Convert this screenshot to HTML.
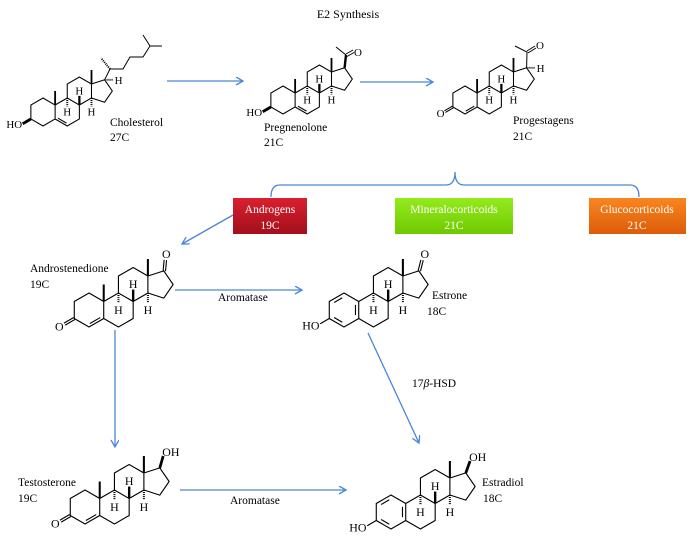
<!DOCTYPE html>
<html><head><meta charset="utf-8"><style>
html,body{margin:0;padding:0;background:#fff;}
svg{display:block;font-family:"Liberation Serif",serif;}
</style></head><body>
<svg width="696" height="540" viewBox="0 0 696 540" xmlns="http://www.w3.org/2000/svg">
<defs>
<marker id="ah" markerWidth="10" markerHeight="10" refX="8" refY="4" orient="auto" markerUnits="userSpaceOnUse">
<path d="M1,0 L8,4 L1,8" fill="none" stroke="#4a86d8" stroke-width="1.3"/>
</marker>
<linearGradient id="gr" x1="0" y1="0" x2="0" y2="1"><stop offset="0" stop-color="#d9202e"/><stop offset="1" stop-color="#a30f1c"/></linearGradient>
<linearGradient id="gg" x1="0" y1="0" x2="0" y2="1"><stop offset="0" stop-color="#94ec1e"/><stop offset="1" stop-color="#70c800"/></linearGradient>
<linearGradient id="go" x1="0" y1="0" x2="0" y2="1"><stop offset="0" stop-color="#f8861e"/><stop offset="1" stop-color="#dc5c0a"/></linearGradient>
</defs>

<text x="348" y="18" font-size="12" text-anchor="middle">E2 Synthesis</text>

<!-- arrows -->
<g stroke="#4a86d8" stroke-width="1.3" fill="none">
<line x1="167" y1="81" x2="243" y2="81" marker-end="url(#ah)"/>
<line x1="360" y1="82" x2="433" y2="82" marker-end="url(#ah)"/>
<path d="M271,197 Q271,185 280,185 L446,185 Q455,185 455,172 Q455,185 464,185 L630,185 Q639,185 639,197"/>
<line x1="233" y1="215" x2="182" y2="244" marker-end="url(#ah)"/>
<line x1="175" y1="290" x2="302" y2="290" marker-end="url(#ah)"/>
<line x1="115" y1="330" x2="115" y2="447" marker-end="url(#ah)"/>
<line x1="368" y1="333" x2="419" y2="443" marker-end="url(#ah)"/>
<line x1="180" y1="490" x2="346" y2="490" marker-end="url(#ah)"/>
</g>

<!-- boxes -->
<rect x="233" y="198" width="74" height="36" fill="url(#gr)"/>
<rect x="395" y="198" width="118" height="36" fill="url(#gg)"/>
<rect x="589" y="198" width="97" height="36" fill="url(#go)"/>
<g fill="#fff" font-size="11.5" text-anchor="middle">
<text x="270" y="213">Androgens</text><text x="270" y="229">19C</text>
<text x="454" y="213">Mineralocorticoids</text><text x="454" y="229">21C</text>
<text x="637" y="213">Glucocorticoids</text><text x="637" y="229">21C</text>
</g>

<!-- labels -->
<g font-size="11.5" fill="#000">
<text x="110" y="126">Cholesterol</text><text x="110" y="141">27C</text>
<text x="264" y="131">Pregnenolone</text><text x="264" y="146">21C</text>
<text x="513" y="124">Progestagens</text><text x="513" y="140">21C</text>
<text x="30" y="272">Androstenedione</text><text x="30" y="288">19C</text>
<text x="218" y="301">Aromatase</text>
<text x="432" y="299">Estrone</text><text x="427" y="315">18C</text>
<text x="412" y="387">17<tspan font-style="italic">β</tspan>-HSD</text>
<text x="18" y="486">Testosterone</text><text x="18" y="502">19C</text>
<text x="230" y="504">Aromatase</text>
<text x="482" y="486">Estradiol</text><text x="483" y="502">18C</text>
</g>

<!-- ===== Cholesterol ===== -->
<g transform="translate(43,112) scale(14)" fill="none" stroke="#000" stroke-width="0.075">
<path d="M0,-1L.866,-.5L.866,.5L0,1L-.866,.5L-.866,-.5Z M.866,-.5L1.732,-1L2.598,-.5L2.598,.5L1.732,1L.866,.5 M1.732,-1L1.732,-2L2.598,-2.5L3.464,-2L3.464,-1L2.598,-.5 M3.464,-2L4.4,-2.3L4.95,-1.5L4.4,-.7L3.464,-1"/>
<path d="M1.071,.445L1.677,.795"/>
<path d="M.866,-.5L.866,-1.5 M3.464,-2L3.464,-3" stroke-width=".13"/>
<path d="M1.732,-1L1.732,-.4 M3.464,-1L3.464,-.4" stroke-width=".14" stroke-dasharray=".07 .07"/>
<path d="M2.598,-.5L2.598,-1.15" stroke-width=".16"/>
<path d="M-.866,.5L-1.45,.84" stroke-width=".2"/>
<path d="M4.4,-2.3L5,-2.3" stroke-width=".14" stroke-dasharray=".07 .07"/>
<g fill="#000" stroke="none" font-size=".78" text-anchor="middle">
<text x="1.732" y=".25">H</text><text x="3.464" y=".25">H</text><text x="2.598" y="-1.25">H</text>
<text x="5.4" y="-2.0">H</text>
<text x="-2.05" y="1.15">HO</text>
</g>
</g>
<g fill="none" stroke="#000" stroke-width="1">
<path d="M104.6,79.8 L110,69 L123,69 L130,57 L143,57 L150,46 L143,35 M150,46 L162,46"/>
<path d="M110,69 L101,58" stroke-width="2" stroke-dasharray="1 1"/>
</g>

<!-- ===== Pregnenolone ===== -->
<g transform="translate(283,100) scale(14)" fill="none" stroke="#000" stroke-width="0.075">
<path d="M0,-1L.866,-.5L.866,.5L0,1L-.866,.5L-.866,-.5Z M.866,-.5L1.732,-1L2.598,-.5L2.598,.5L1.732,1L.866,.5 M1.732,-1L1.732,-2L2.598,-2.5L3.464,-2L3.464,-1L2.598,-.5 M3.464,-2L4.4,-2.3L4.95,-1.5L4.4,-.7L3.464,-1"/>
<path d="M1.071,.445L1.677,.795"/>
<path d="M.866,-.5L.866,-1.5 M3.464,-2L3.464,-3" stroke-width=".13"/>
<path d="M1.732,-1L1.732,-.4 M3.464,-1L3.464,-.4" stroke-width=".14" stroke-dasharray=".07 .07"/>
<path d="M2.598,-.5L2.598,-1.15" stroke-width=".16"/>
<path d="M-.866,.5L-1.45,.84" stroke-width=".2"/>
<g fill="#000" stroke="none" font-size=".78" text-anchor="middle">
<text x="1.732" y=".25">H</text><text x="3.464" y=".25">H</text><text x="2.598" y="-1.25">H</text>
<text x="-2.05" y="1.15">HO</text>
</g>
</g>
<g fill="none" stroke="#000" stroke-width="1">
<path d="M344.6,67.8 L346,55" stroke-width="2.4"/>
<path d="M346,55 L336,47 M346,54 L353,50 M347,56.5 L354,52.5"/>
</g>
<text x="354" y="56" font-size="11">O</text>

<!-- ===== Progestagens ===== -->
<g transform="translate(465,100) scale(14)" fill="none" stroke="#000" stroke-width="0.075">
<path d="M0,-1L.866,-.5L.866,.5L0,1L-.866,.5L-.866,-.5Z M.866,-.5L1.732,-1L2.598,-.5L2.598,.5L1.732,1L.866,.5 M1.732,-1L1.732,-2L2.598,-2.5L3.464,-2L3.464,-1L2.598,-.5 M3.464,-2L4.4,-2.3L4.95,-1.5L4.4,-.7L3.464,-1"/>
<path d="M.055,.795L.661,.445"/>
<path d="M-.831,.56L-1.4,.89 M-.901,.44L-1.47,.77"/>
<path d="M.866,-.5L.866,-1.5 M3.464,-2L3.464,-3" stroke-width=".13"/>
<path d="M1.732,-1L1.732,-.4 M3.464,-1L3.464,-.4" stroke-width=".14" stroke-dasharray=".07 .07"/>
<path d="M2.598,-.5L2.598,-1.15" stroke-width=".16"/>
<path d="M4.4,-2.3L5,-2.3" stroke-width=".14" stroke-dasharray=".07 .07"/>
<g fill="#000" stroke="none" font-size=".78" text-anchor="middle">
<text x="1.732" y=".25">H</text><text x="3.464" y=".25">H</text><text x="2.598" y="-1.25">H</text>
<text x="5.4" y="-2.0">H</text>
<text x="-1.75" y="1.2">O</text>
</g>
</g>
<g fill="none" stroke="#000" stroke-width="1">
<path d="M526.6,67.8 L527,52 L515,46 M527,51 L535,46 M528,53 L536,48"/>
</g>
<text x="536" y="49" font-size="11">O</text>

<!-- ===== Androstenedione ===== -->
<g transform="translate(89,310) scale(17)" fill="none" stroke="#000" stroke-width="0.065">
<path d="M0,-1L.866,-.5L.866,.5L0,1L-.866,.5L-.866,-.5Z M.866,-.5L1.732,-1L2.598,-.5L2.598,.5L1.732,1L.866,.5 M1.732,-1L1.732,-2L2.598,-2.5L3.464,-2L3.464,-1L2.598,-.5 M3.464,-2L4.4,-2.3L4.95,-1.5L4.4,-.7L3.464,-1"/>
<path d="M.055,.795L.661,.445"/>
<path d="M-.831,.56L-1.4,.89 M-.901,.44L-1.47,.77"/>
<path d="M.866,-.5L.866,-1.5 M3.464,-2L3.464,-3" stroke-width=".12"/>
<path d="M1.732,-1L1.732,-.4 M3.464,-1L3.464,-.4" stroke-width=".12" stroke-dasharray=".06 .06"/>
<path d="M2.598,-.5L2.598,-1.2" stroke-width=".14"/>
<path d="M4.36,-2.3L4.42,-2.95 M4.5,-2.28L4.56,-2.93"/>
<g fill="#000" stroke="none" font-size=".7" text-anchor="middle">
<text x="1.732" y=".22">H</text><text x="3.464" y=".22">H</text><text x="2.598" y="-1.3">H</text>
<text x="-1.75" y="1.2">O</text><text x="4.55" y="-3.05">O</text>
</g>
</g>

<!-- ===== Estrone ===== -->
<g transform="translate(344,310) scale(17)" fill="none" stroke="#000" stroke-width="0.065">
<path d="M0,-1L.866,-.5L.866,.5L0,1L-.866,.5L-.866,-.5Z M.866,-.5L1.732,-1L2.598,-.5L2.598,.5L1.732,1L.866,.5 M1.732,-1L1.732,-2L2.598,-2.5L3.464,-2L3.464,-1L2.598,-.5 M3.464,-2L4.4,-2.3L4.95,-1.5L4.4,-.7L3.464,-1"/>
<path d="M-.58,-.44L-.1,-.72 M.675,-.3L.675,.3 M-.1,.72L-.58,.44"/>
<path d="M-.866,.5L-1.4,.81"/>
<path d="M3.464,-2L3.464,-3" stroke-width=".12"/>
<path d="M1.732,-1L1.732,-.4 M3.464,-1L3.464,-.4" stroke-width=".12" stroke-dasharray=".06 .06"/>
<path d="M2.598,-.5L2.598,-1.2" stroke-width=".14"/>
<path d="M4.36,-2.3L4.52,-2.95 M4.5,-2.28L4.66,-2.93"/>
<g fill="#000" stroke="none" font-size=".7" text-anchor="middle">
<text x="1.732" y=".22">H</text><text x="3.464" y=".22">H</text><text x="2.598" y="-1.3">H</text>
<text x="-1.95" y="1.15">HO</text><text x="4.75" y="-3.05">O</text>
</g>
</g>

<!-- ===== Testosterone ===== -->
<g transform="translate(85,507) scale(17)" fill="none" stroke="#000" stroke-width="0.065">
<path d="M0,-1L.866,-.5L.866,.5L0,1L-.866,.5L-.866,-.5Z M.866,-.5L1.732,-1L2.598,-.5L2.598,.5L1.732,1L.866,.5 M1.732,-1L1.732,-2L2.598,-2.5L3.464,-2L3.464,-1L2.598,-.5 M3.464,-2L4.4,-2.3L4.95,-1.5L4.4,-.7L3.464,-1"/>
<path d="M.055,.795L.661,.445"/>
<path d="M-.831,.56L-1.4,.89 M-.901,.44L-1.47,.77"/>
<path d="M.866,-.5L.866,-1.5 M3.464,-2L3.464,-3" stroke-width=".12"/>
<path d="M1.732,-1L1.732,-.4 M3.464,-1L3.464,-.4" stroke-width=".12" stroke-dasharray=".06 .06"/>
<path d="M2.598,-.5L2.598,-1.2" stroke-width=".14"/>
<path d="M4.4,-2.3L4.6,-3" stroke-width=".16"/>
<g fill="#000" stroke="none" font-size=".7" text-anchor="middle">
<text x="1.732" y=".22">H</text><text x="3.464" y=".22">H</text><text x="2.598" y="-1.3">H</text>
<text x="-1.75" y="1.2">O</text><text x="5.05" y="-3.0">OH</text>
</g>
</g>

<!-- ===== Estradiol ===== -->
<g transform="translate(391,512) scale(17)" fill="none" stroke="#000" stroke-width="0.065">
<path d="M0,-1L.866,-.5L.866,.5L0,1L-.866,.5L-.866,-.5Z M.866,-.5L1.732,-1L2.598,-.5L2.598,.5L1.732,1L.866,.5 M1.732,-1L1.732,-2L2.598,-2.5L3.464,-2L3.464,-1L2.598,-.5 M3.464,-2L4.4,-2.3L4.95,-1.5L4.4,-.7L3.464,-1"/>
<path d="M-.58,-.44L-.1,-.72 M.675,-.3L.675,.3 M-.1,.72L-.58,.44"/>
<path d="M-.866,.5L-1.4,.81"/>
<path d="M3.464,-2L3.464,-3" stroke-width=".12"/>
<path d="M1.732,-1L1.732,-.4 M3.464,-1L3.464,-.4" stroke-width=".12" stroke-dasharray=".06 .06"/>
<path d="M2.598,-.5L2.598,-1.2" stroke-width=".14"/>
<path d="M4.4,-2.3L4.65,-3" stroke-width=".16"/>
<g fill="#000" stroke="none" font-size=".7" text-anchor="middle">
<text x="1.732" y=".22">H</text><text x="3.464" y=".22">H</text><text x="2.598" y="-1.3">H</text>
<text x="-1.95" y="1.15">HO</text><text x="5.1" y="-3.0">OH</text>
</g>
</g>
</svg>
</body></html>
